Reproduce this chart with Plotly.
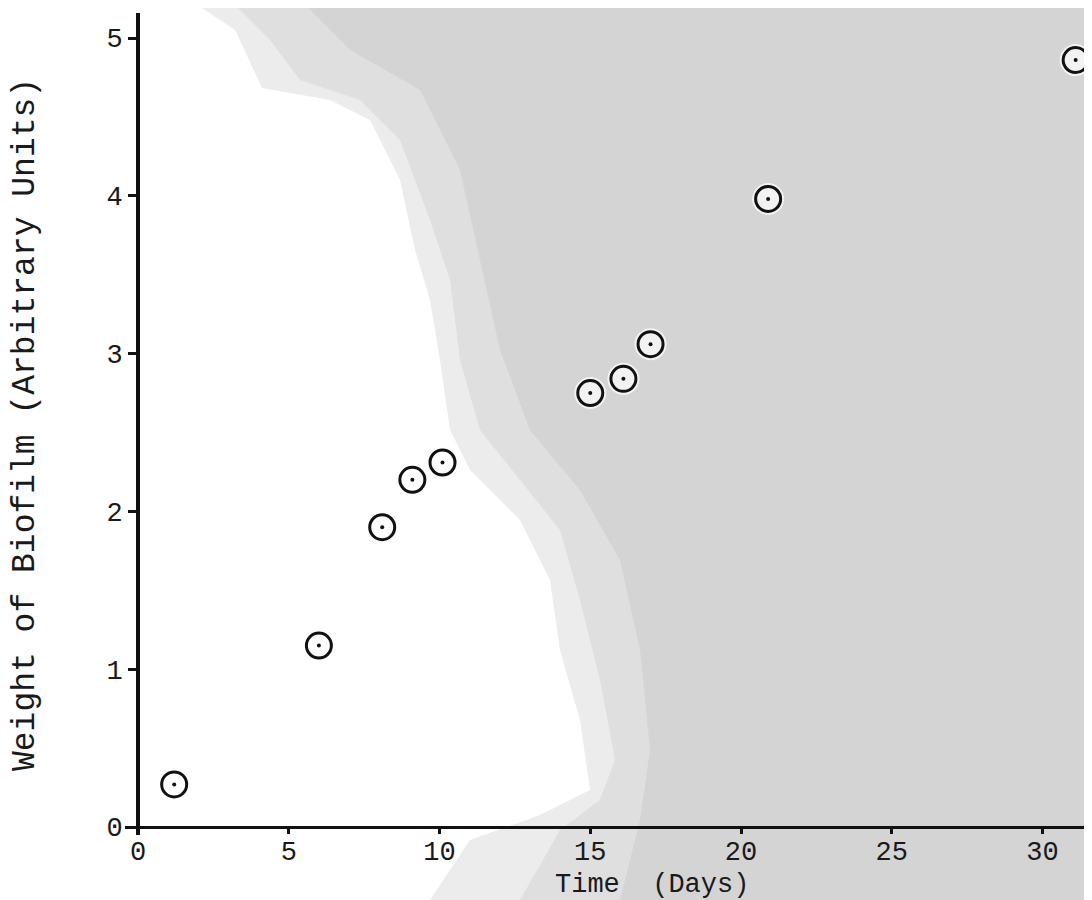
import plotly.graph_objects as go

# Data
days = [1.2, 6.0, 8.1, 9.1, 10.1, 15.0, 16.1, 17.0, 20.9, 31.1]
weight = [0.27, 1.15, 1.90, 2.20, 2.31, 2.75, 2.84, 3.06, 3.98, 4.86]
x_ticks = [0, 5, 10, 15, 20, 25, 30]
y_ticks = [0, 1, 2, 3, 4, 5]
x_title = "Time\u00a0\u00a0(Days)"
y_title = "Weight of Biofilm (Arbitrary Units)"

OFF = 8  # page body margin
W, H = 1092 - OFF, 900 - OFF
# layout in page pixels
L_pg, T_pg, B_pg = 125, 13, 835
L, T = L_pg - OFF, T_pg - OFF
B = H - (B_pg - OFF)
R = 0
PW, PH = W - L - R, H - T - B

def px2paper(px, py):
    fx, fy = px - OFF, py - OFF
    return (fx - L) / PW, (H - B - fy) / PH

FONT = "Liberation Mono"

# scan-like grey background regions (page-pixel polygons)
outer_poly = [(190, 0), (235, 30), (262, 88), (330, 100), (370, 120), (400, 180),
              (415, 250), (430, 300), (440, 360), (450, 430), (470, 470), (520, 520),
              (550, 580), (560, 650), (580, 720), (590, 790), (540, 815), (470, 840),
              (430, 900), (1100, 900), (1100, 0)]
mid_poly = [(230, 0), (270, 40), (300, 80), (360, 100), (400, 140), (430, 220), (450, 280),
            (460, 360), (480, 430), (520, 480), (560, 530), (580, 600), (600, 680),
            (615, 760), (600, 800), (560, 830), (520, 900), (1100, 900), (1100, 0)]
inner_poly = [(300, 0), (350, 50), (420, 90), (460, 170), (480, 260), (500, 350), (530, 430),
              (580, 490), (620, 560), (640, 650), (650, 750), (640, 820), (620, 900),
              (1100, 900), (1100, 0)]

def path_of(poly):
    pts = [px2paper(x, y) for x, y in poly]
    return "M " + " L ".join(f"{a:.4f},{b:.4f}" for a, b in pts) + " Z"

fig = go.Figure()
fig.add_trace(go.Scatter(x=days, y=weight, mode="markers",
                         marker=dict(size=32, color="rgba(255,255,255,0.7)", line=dict(width=0)),
                         hoverinfo="skip", showlegend=False))
fig.add_trace(go.Scatter(x=days, y=weight, mode="markers",
                         marker=dict(symbol="circle-open", size=25, color="#111111",
                                     line=dict(width=3, color="#111111")),
                         showlegend=False))
fig.add_trace(go.Scatter(x=days, y=weight, mode="markers",
                         marker=dict(symbol="circle", size=4, color="#111111"),
                         hoverinfo="skip", showlegend=False))

x0_px, x_scale = 138 - OFF, 30.15
y0_px, y_scale = 827 - OFF, 157.8
xr = [-(x0_px - L) / x_scale, -(x0_px - L) / x_scale + PW / x_scale]
yr = [-((H - B) - y0_px) / y_scale, -((H - B) - y0_px) / y_scale + PH / y_scale]

fig.update_layout(
    width=W, height=H,
    margin=dict(l=L, r=R, t=T, b=B, pad=0),
    paper_bgcolor="white", plot_bgcolor="rgba(0,0,0,0)",
    font=dict(family=FONT, color="#1a1a1a"),
    shapes=[
        dict(type="path", xref="paper", yref="paper", path=path_of(outer_poly),
             fillcolor="#ececec", line=dict(width=0), layer="below"),
        dict(type="path", xref="paper", yref="paper", path=path_of(mid_poly),
             fillcolor="#dfdfdf", line=dict(width=0), layer="below"),
        dict(type="path", xref="paper", yref="paper", path=path_of(inner_poly),
             fillcolor="#d4d4d4", line=dict(width=0), layer="below"),
    ],
    xaxis=dict(range=xr, tickvals=x_ticks, ticktext=[str(v) for v in x_ticks],
               showgrid=False, zeroline=False, showline=True, linewidth=3, linecolor="#111111",
               ticks="outside", ticklen=5, tickwidth=3, tickcolor="#111111",
               anchor="free", position=((H - B) - y0_px) / PH,
               ticklabelstandoff=-6,
               tickfont=dict(family=FONT, size=27, color="#1a1a1a")),
    yaxis=dict(range=yr, tickvals=y_ticks, ticktext=[str(v) for v in y_ticks],
               showgrid=False, zeroline=False, showline=True, linewidth=4, linecolor="#111111",
               ticks="outside", ticklen=8, tickwidth=3, tickcolor="#111111",
               anchor="free", position=(x0_px - L) / PW,
               tickfont=dict(family=FONT, size=27, color="#1a1a1a")),
    annotations=[
        dict(text=x_title, xref="paper", yref="paper",
             x=px2paper(652, 885)[0], y=px2paper(652, 885)[1],
             showarrow=False, xanchor="center", yanchor="middle",
             font=dict(family=FONT, size=27, color="#1a1a1a")),
        dict(text=y_title, xref="paper", yref="paper",
             x=px2paper(25, 425)[0], y=px2paper(25, 425)[1], textangle=-90,
             showarrow=False, xanchor="center", yanchor="middle",
             font=dict(family=FONT, size=33, color="#1a1a1a")),
    ],
)

fig.write_html("out.html")
